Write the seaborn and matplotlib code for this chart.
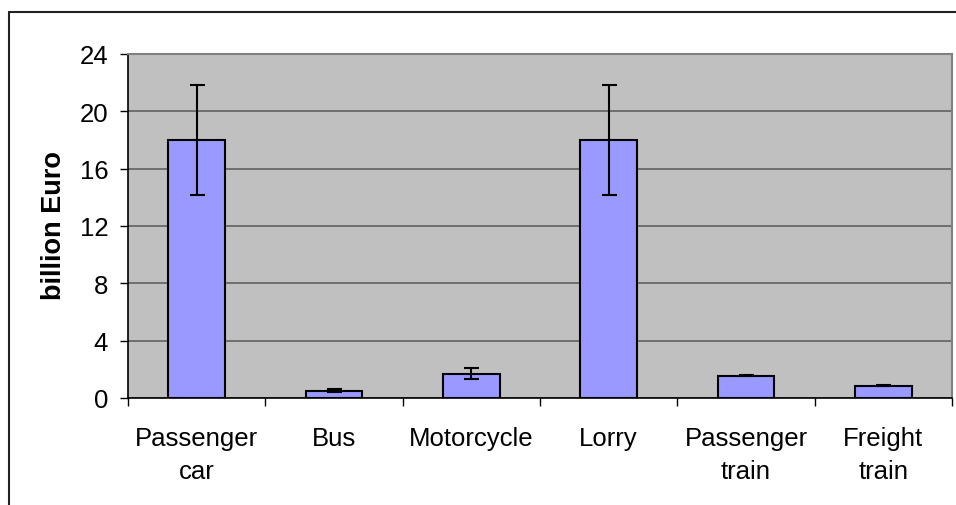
import numpy as np
import pandas as pd
import matplotlib
matplotlib.use('Agg')
import matplotlib.pyplot as plt
import seaborn as sns

# du lieu doc tu hinh
categories = ['Passenger\ncar', 'Bus', 'Motorcycle', 'Lorry', 'Passenger\ntrain', 'Freight\ntrain']
values = [18.0, 0.52, 1.7, 18.0, 1.55, 0.85]
errors = [3.85, 0.08, 0.4, 3.85, 0.03, 0.03]
y_ticks = [0, 4, 8, 12, 16, 20, 24]

df = pd.DataFrame({'cat': categories, 'val': values, 'err': errors})

sns.set_theme(style='white')
plt.rcParams['font.family'] = ['Liberation Sans', 'DejaVu Sans']
plt.rcParams['text.color'] = 'black'
plt.rcParams['axes.labelcolor'] = 'black'
plt.rcParams['xtick.color'] = 'black'
plt.rcParams['ytick.color'] = 'black'

fig = plt.figure(figsize=(9.56, 5.06), dpi=100)
ax = fig.add_axes([128/956, 1 - 399/506, 824/956, 344/506])
ax.set_facecolor('#C0C0C0')

sns.barplot(data=df, x='cat', y='val', color='#9999FF', saturation=1,
            edgecolor='black', linewidth=1.5, width=0.415, ax=ax, errorbar=None)
ax.errorbar(np.arange(len(df)), df['val'], yerr=df['err'], fmt='none',
            ecolor='black', elinewidth=1.5, capsize=5.4, capthick=1.5, zorder=5)

ax.set_ylim(0, 24)
ax.set_xlim(-0.5, len(df) - 0.5)
ax.set_yticks(y_ticks)
ax.yaxis.grid(True, color='#6E6E6E', linewidth=1.4)
ax.set_axisbelow(True)

# vach chia truc x nam o ranh gioi giua cac nhom
ax.set_xticks(np.arange(len(df)))
ax.set_xticklabels(categories, fontsize=18.5, linespacing=1.5)
ax.set_xticks(np.arange(len(df) + 1) - 0.5, minor=True)
ax.tick_params(axis='x', which='major', length=0, pad=20)
ax.tick_params(axis='x', which='minor', length=5.8, width=1, color='black', direction='out', bottom=True)
ax.tick_params(axis='y', length=5.8, width=1, color='black', direction='out', left=True, labelsize=18.5, pad=8.5)

ax.set_xlabel('')
ax.set_ylabel('billion Euro', fontsize=19.5, fontweight='bold')
ax.yaxis.set_label_coords(-0.0744, 0.503)

for side in ['left', 'bottom']:
    ax.spines[side].set_color('black')
    ax.spines[side].set_linewidth(1.2)
for side in ['top', 'right']:
    ax.spines[side].set_color('#808080')
    ax.spines[side].set_linewidth(1.5)

# khung ngoai
fig.add_artist(plt.Line2D([9/956, 1], [1 - 13/506, 1 - 13/506], color='#222222', linewidth=1.5, transform=fig.transFigure))
fig.add_artist(plt.Line2D([9/956, 9/956], [0, 1 - 13/506], color='#222222', linewidth=1.5, transform=fig.transFigure))

fig.savefig('out.png', dpi=100)
